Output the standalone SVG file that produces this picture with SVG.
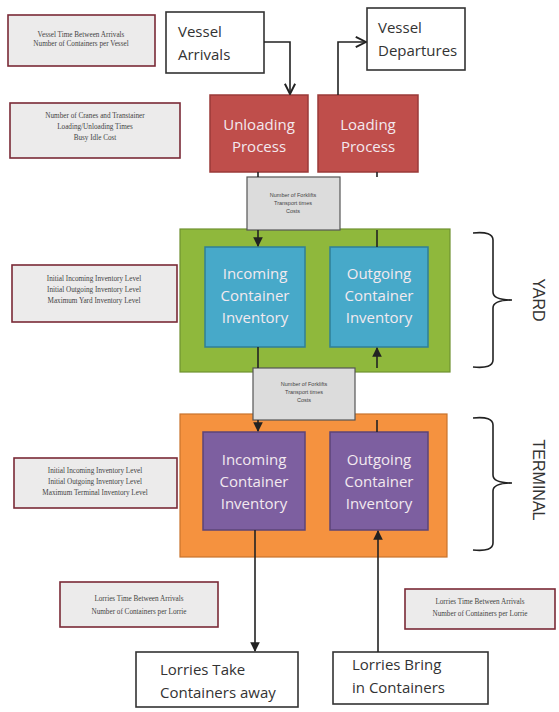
<svg xmlns="http://www.w3.org/2000/svg" width="559" height="712" viewBox="0 0 559 712">
<defs>
<style>
.note{fill:#ecebeb;stroke:#7a2a36;stroke-width:1.6}
.nt{font-family:"Liberation Serif",serif;font-size:7.2px;fill:#444;text-anchor:middle}
.wbox{fill:#fff;stroke:#333;stroke-width:1.6}
.bt{font-family:"Open Sans","Liberation Sans",sans-serif;font-size:15px;fill:#333}
.red{fill:#bf4e4b;stroke:#9a3a38;stroke-width:1.5}
.blue{fill:#47a9c9;stroke:#2f7f96;stroke-width:1.5}
.pur{fill:#7d5fa0;stroke:#5c4478;stroke-width:1.5}
.it{font-family:"Open Sans","Liberation Sans",sans-serif;font-size:15px;fill:#f3e9ef;text-anchor:middle}
.gray{fill:#dcdcdc;stroke:#555;stroke-width:1.2}
.gt{font-family:"Liberation Sans",sans-serif;font-size:5.5px;fill:#444;text-anchor:middle}
.ln{fill:none;stroke:#222;stroke-width:1.6}
.lbl{font-family:"Liberation Sans",sans-serif;font-size:16px;fill:#333}
</style>
<marker id="ah" viewBox="0 0 10 10" refX="9" refY="5" markerWidth="6" markerHeight="6" orient="auto">
<path d="M0,0 L10,5 L0,10 z" fill="#222"/>
</marker>
<marker id="oh" viewBox="0 0 10 10" refX="9" refY="5" markerWidth="8" markerHeight="8" orient="auto">
<path d="M1,1 L9,5 L1,9" fill="none" stroke="#222" stroke-width="1.5"/>
</marker>
</defs>
<rect width="559" height="712" fill="#fff"/>

<g id="note-vessel"><rect class="note" x="8" y="15" width="147" height="51"/>
<text class="nt" x="81" y="37">Vessel Time Between Arrivals</text>
<text class="nt" x="81" y="46">Number of Containers per Vessel</text></g>

<g id="vessel-arrivals"><rect class="wbox" x="166" y="12" width="98" height="61"/>
<text class="bt" x="178" y="37">Vessel</text><text class="bt" x="178" y="60">Arrivals</text></g>

<g id="vessel-departures"><rect class="wbox" x="367" y="8" width="98" height="62"/>
<text class="bt" x="378" y="33">Vessel</text><text class="bt" x="378" y="56">Departures</text></g>

<g id="note-cranes"><rect class="note" x="10" y="103" width="170" height="55"/>
<text class="nt" x="95" y="118">Number of Cranes and Transtainer</text>
<text class="nt" x="95" y="129">Loading/Unloading Times</text>
<text class="nt" x="95" y="140">Busy Idle Cost</text></g>

<g id="unloading"><rect class="red" x="210" y="95" width="98" height="77"/>
<text class="it" x="259" y="130">Unloading</text><text class="it" x="259" y="152">Process</text></g>

<g id="loading"><rect class="red" x="318" y="95" width="100" height="77"/>
<text class="it" x="368" y="130">Loading</text><text class="it" x="368" y="152">Process</text></g>

<g id="yard"><rect x="180" y="229" width="270" height="143" fill="#8fb83c" stroke="#6f9130" stroke-width="1.2"/></g>

<g id="terminal"><rect x="180" y="414" width="267" height="143" fill="#f5923f" stroke="#c8732c" stroke-width="1.2"/></g>

<g id="forklifts-1"><rect class="gray" x="247" y="177" width="93" height="53"/>
<text class="gt" x="293" y="197">Number of Forklifts</text>
<text class="gt" x="293" y="205">Transport times</text>
<text class="gt" x="293" y="213">Costs</text></g>

<g id="yard-incoming"><rect class="blue" x="205" y="247" width="100" height="100"/>
<text class="it" x="255" y="279">Incoming</text><text class="it" x="255" y="301">Container</text><text class="it" x="255" y="323">Inventory</text></g>

<g id="yard-outgoing"><rect class="blue" x="330" y="247" width="98" height="100"/>
<text class="it" x="379" y="279">Outgoing</text><text class="it" x="379" y="301">Container</text><text class="it" x="379" y="323">Inventory</text></g>

<g id="forklifts-2"><rect class="gray" x="253" y="368" width="102" height="52"/>
<text class="gt" x="304" y="386">Number of Forklifts</text>
<text class="gt" x="304" y="394">Transport times</text>
<text class="gt" x="304" y="402">Costs</text></g>

<g id="terminal-incoming"><rect class="pur" x="203" y="432" width="102" height="98"/>
<text class="it" x="254" y="465">Incoming</text><text class="it" x="254" y="487">Container</text><text class="it" x="254" y="509">Inventory</text></g>

<g id="terminal-outgoing"><rect class="pur" x="330" y="432" width="98" height="98"/>
<text class="it" x="379" y="465">Outgoing</text><text class="it" x="379" y="487">Container</text><text class="it" x="379" y="509">Inventory</text></g>

<g id="note-yard"><rect class="note" x="12" y="265" width="165" height="57"/>
<text class="nt" x="94" y="281">Initial Incoming Inventory Level</text>
<text class="nt" x="94" y="292">Initial Outgoing Inventory Level</text>
<text class="nt" x="94" y="303">Maximum Yard Inventory Level</text></g>

<g id="note-terminal"><rect class="note" x="14" y="458" width="163" height="50"/>
<text class="nt" x="95" y="473">Initial Incoming Inventory Level</text>
<text class="nt" x="95" y="484">Initial Outgoing Inventory Level</text>
<text class="nt" x="95" y="495">Maximum Terminal Inventory Level</text></g>

<g id="note-lorries-1"><rect class="note" x="60" y="582" width="158" height="45"/>
<text class="nt" x="139" y="601">Lorries Time Between Arrivals</text>
<text class="nt" x="139" y="614">Number of Containers per Lorrie</text></g>

<g id="note-lorries-2"><rect class="note" x="405" y="589" width="150" height="40"/>
<text class="nt" x="480" y="604">Lorries Time Between Arrivals</text>
<text class="nt" x="480" y="616">Number of Containers per Lorrie</text></g>

<g id="lorries-take"><rect class="wbox" x="136" y="652" width="162" height="55"/>
<text class="bt" x="160" y="675">Lorries Take</text><text class="bt" x="160" y="698">Containers away</text></g>

<g id="lorries-bring"><rect class="wbox" x="333" y="652" width="155" height="52"/>
<text class="bt" x="352" y="670">Lorries Bring</text><text class="bt" x="352" y="693">in Containers</text></g>

<g id="yard-label"><path class="ln" d="M473,233 Q493,231 493,240 L493,292 Q493,300 512,300 Q493,300 493,308 L493,360 Q493,369 473,367"/>
<text class="lbl" transform="translate(533,300) rotate(90)" text-anchor="middle">YARD</text></g>

<g id="terminal-label"><path class="ln" d="M473,418 Q493,416 493,425 L493,475 Q493,483 512,483 Q493,483 493,491 L493,543 Q493,552 473,550"/>
<text class="lbl" transform="translate(533,480) rotate(90)" text-anchor="middle">TERMINAL</text></g>

<g id="connectors">
<path class="ln" d="M264,42 L290,42 L290,94" marker-end="url(#oh)"/>
<path class="ln" d="M338,95 L338,42 L366,42" marker-end="url(#oh)"/>
<path class="ln" d="M258,172 L258,177"/>
<path class="ln" d="M258,230 L258,246" marker-end="url(#ah)"/>
<path class="ln" d="M377,172 L377,177"/>
<path class="ln" d="M377,230 L377,247"/>
<path class="ln" d="M258,347 L258,368"/>
<path class="ln" d="M377,368 L377,348" marker-end="url(#ah)"/>
<path class="ln" d="M258,420 L258,431" marker-end="url(#ah)"/>
<path class="ln" d="M377,432 L377,420"/>
<path class="ln" d="M255,530 L255,651" marker-end="url(#ah)"/>
<path class="ln" d="M378,652 L378,531" marker-end="url(#ah)"/>
</g>
</svg>
